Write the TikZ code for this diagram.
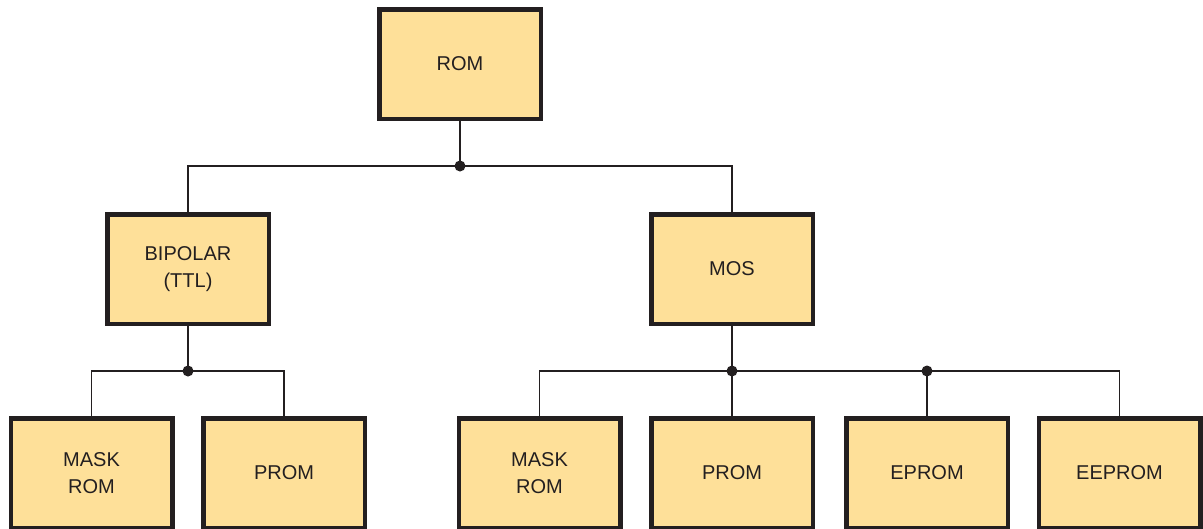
\documentclass[tikz,border=0pt]{standalone}
\usepackage{fontspec}
\setmainfont{Liberation Sans}
\usepackage{tikz}
\definecolor{xBoxFill}{RGB}{254,224,153}
\definecolor{xInk}{RGB}{35,31,32}

\begin{document}
\begin{tikzpicture}[x=1pt,y=-1pt,
    romBox/.style={
        draw=xInk,
        fill=xBoxFill,
        line width=4.5pt,
        minimum width=161.5pt,
        minimum height=109.5pt,
        align=center,
        text=xInk,
        font=\fontsize{20}{26.7}\selectfont
    },
    wire/.style={xInk, line width=1.7pt},
    joint/.style={fill=xInk}
]

    % -------------------------------------------------
    % Picture frame, same size as the reference
    % -------------------------------------------------
    \useasboundingbox (0,0) rectangle (1203,528);
    \fill[white] (0,0) rectangle (1203,528);

    % -------------------------------------------------
    % Boxes, placed at their centers
    % -------------------------------------------------
    \node[romBox] (rom)     at (460,64)  {ROM};

    \node[romBox] (bipolar) at (188,269) {BIPOLAR\\(TTL)};
    \node[romBox] (mos)     at (732,269) {MOS};

    \node[romBox] (bMask)   at (91.5,473)  {MASK\\ROM};
    \node[romBox] (bProm)   at (284,473)   {PROM};
    \node[romBox] (mMask)   at (539.5,473) {MASK\\ROM};
    \node[romBox] (mProm)   at (732,473)   {PROM};
    \node[romBox] (mEprom)  at (927,473)   {EPROM};
    \node[romBox] (mEeprom) at (1119.5,473) {EEPROM};

    % -------------------------------------------------
    % Branch points of the tree
    % -------------------------------------------------
    \coordinate (jRom)   at (460,166);
    \coordinate (jBip)   at (188,371);
    \coordinate (jMos)   at (732,371);
    \coordinate (jEprom) at (927,371);

    % -------------------------------------------------
    % Connectors
    % -------------------------------------------------
    \draw[wire] (rom) -- (jRom);
    \draw[wire] (jRom) -| (bipolar);
    \draw[wire] (jRom) -| (mos);

    \draw[wire] (bipolar) -- (jBip);
    \draw[wire] (jBip) -| (bMask);
    \draw[wire] (jBip) -| (bProm);

    \draw[wire] (mos) -- (jMos);
    \draw[wire] (jMos) -| (mMask);
    \draw[wire] (jMos) -- (mProm);
    \draw[wire] (jMos) -- (jEprom);
    \draw[wire] (jEprom) -- (mEprom);
    \draw[wire] (jEprom) -| (mEeprom);

    % -------------------------------------------------
    % Junction dots
    % -------------------------------------------------
    \foreach \j in {jRom, jBip, jMos, jEprom}{
        \fill[joint] (\j) circle (5.5pt);
    }
\end{tikzpicture}
\end{document}
